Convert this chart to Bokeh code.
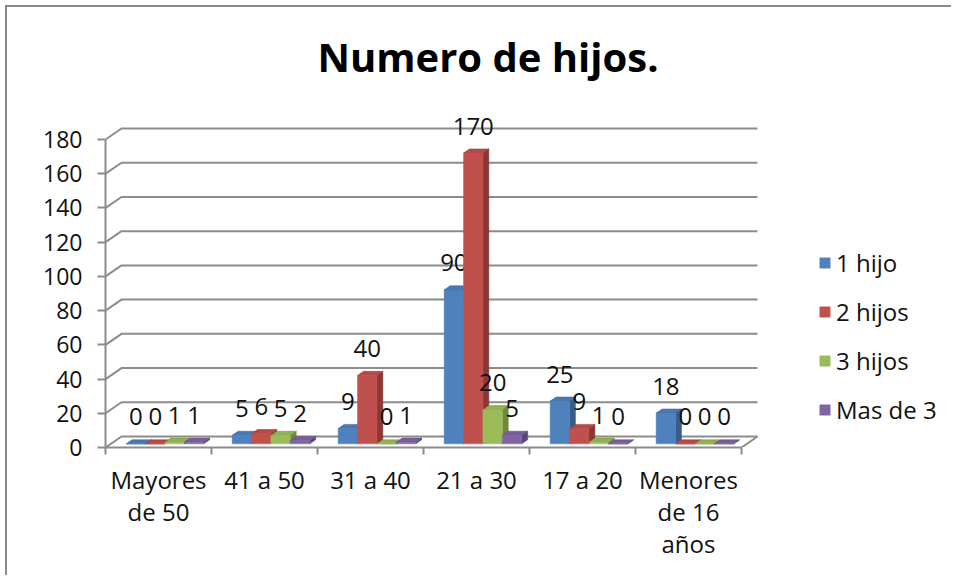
from bokeh.plotting import figure
from bokeh.models import Range1d, FixedTicker, Label, Legend, LegendItem, ColumnDataSource
from bokeh.embed import file_html
from bokeh.resources import INLINE
from bokeh.core.properties import value

# ---------------- data ----------------
categories = ["Mayores de 50", "41 a 50", "31 a 40", "21 a 30", "17 a 20", "Menores de 16 años"]
category_labels = ["Mayores\nde 50", "41 a 50", "31 a 40", "21 a 30", "17 a 20", "Menores\nde 16\naños"]
series_names = ["1 hijo", "2 hijos", "3 hijos", "Mas de 3"]
uno_hijo = [0, 5, 9, 90, 25, 18]
dos_hijos = [0, 6, 40, 170, 9, 0]
tres_hijos = [1, 5, 0, 20, 1, 0]
mas_de_3 = [1, 2, 1, 5, 0, 0]
y_ticks = [0, 20, 40, 60, 80, 100, 120, 140, 160, 180]
title_text = "Numero de hijos."

series_values = [uno_hijo, dos_hijos, tres_hijos, mas_de_3]
front_colors = ["#4F81BD", "#C0504D", "#9BBB59", "#8064A2"]
top_colors = ["#4A79B2", "#B54B48", "#92B054", "#795E99"]
side_colors = ["#385D8A", "#8A3735", "#6F8A3E", "#5B4777"]

# ---------------- layout constants ----------------
W, H = 946, 570
LEFT = 98
FRAME_H = 440
CAT_PX = 106.0
PX_PER_UNIT = 1.711
DX_PX, DY_PX = 16.0, 11.0
FONT = "Open Sans"
GRID_COLOR = "#8c8c8c"
TEXT_COLOR = "#111111"

n_cat = len(categories)
x_end = (W - LEFT) / CAT_PX
y_end = FRAME_H / PX_PER_UNIT
DXu = DX_PX / CAT_PX
DYu = DY_PX / PX_PER_UNIT
ZF, ZB = 0.33, 0.70      # bar front / back depth (fraction of floor depth)
G0 = 0.145               # gap before first bar in a category
BW = 0.183               # bar width (category units)

p = figure(width=W, height=H, output_backend="svg", toolbar_location=None,
           x_range=Range1d(0, x_end), y_range=Range1d(0, y_end),
           min_border_left=LEFT, min_border_right=0, min_border_top=0,
           min_border_bottom=H - FRAME_H,
           background_fill_color="white", border_fill_color="white",
           styles={"margin-left": "5px", "margin-top": "5px",
                   "border-left": "2px solid #8a8a8a", "border-top": "2px solid #8a8a8a"})
p.outline_line_color = None
p.xgrid.visible = False
p.ygrid.visible = False

# ---------------- 3D gridlines (side + back wall) ----------------
grid_xs = [[0, DXu, n_cat + DXu] for t in y_ticks]
grid_ys = [[t, t + DYu, t + DYu] for t in y_ticks]
p.multi_line(grid_xs, grid_ys, line_color=GRID_COLOR, line_width=2)
# floor right edge
p.line([n_cat, n_cat + DXu], [0, DYu], line_color=GRID_COLOR, line_width=2)

# ---------------- 3D bars ----------------
legend_items = []
for j, (name, vals) in enumerate(zip(series_names, series_values)):
    lefts = [i + G0 + j * BW + ZF * DXu for i in range(n_cat)]
    rights = [l + BW for l in lefts]
    base_f = ZF * DYu
    base_b = ZB * DYu
    d = (ZB - ZF) * DXu
    side_xs = [[r, r + d, r + d, r] for r in rights]
    side_ys = [[base_f, base_b, v + base_b, v + base_f] for v in vals]
    top_xs = [[l, r, r + d, l + d] for l, r in zip(lefts, rights)]
    top_ys = [[v + base_f, v + base_f, v + base_b, v + base_b] for v in vals]
    p.patches(side_xs, side_ys, fill_color=side_colors[j], line_color=side_colors[j], line_width=0.5)
    p.patches(top_xs, top_ys, fill_color=top_colors[j], line_color=side_colors[j], line_width=0.5)
    src = ColumnDataSource(dict(left=lefts, right=rights,
                                bottom=[base_f] * n_cat, top=[v + base_f for v in vals],
                                xc=[l + BW / 2 for l in lefts], lbl=[str(v) for v in vals]))
    r = p.quad(left="left", right="right", bottom="bottom", top="top", source=src,
               fill_color=front_colors[j], line_color=front_colors[j], line_width=0.5)
    legend_items.append(LegendItem(label=name, renderers=[r]))
    p.text(x="xc", y="top", text="lbl", source=src, text_align="center",
           text_baseline="middle", y_offset=-27, text_font=value(FONT),
           text_font_size="24px", text_color=TEXT_COLOR)

# ---------------- axes ----------------
xa = p.xaxis[0]
xa.ticker = FixedTicker(ticks=[i + 0.5 for i in range(n_cat)], minor_ticks=list(range(n_cat + 1)))
xa.major_label_overrides = {i + 0.5: lab for i, lab in enumerate(category_labels)}
xa.bounds = (0, n_cat)
xa.major_tick_out = 0
xa.major_tick_in = 0
xa.minor_tick_out = 7
xa.minor_tick_in = 0
xa.minor_tick_line_color = GRID_COLOR
xa.minor_tick_line_width = 2
xa.axis_line_color = GRID_COLOR
xa.axis_line_width = 2
xa.major_label_standoff = 8
xa.major_label_text_font = FONT
xa.major_label_text_font_size = "24px"
xa.major_label_text_color = TEXT_COLOR
xa.major_label_text_line_height = 0.98

ya = p.yaxis[0]
ya.ticker = FixedTicker(ticks=y_ticks, minor_ticks=[])
ya.bounds = (0, y_ticks[-1])
ya.major_tick_out = 8
ya.major_tick_in = 0
ya.minor_tick_out = 0
ya.minor_tick_in = 0
ya.major_tick_line_color = GRID_COLOR
ya.major_tick_line_width = 2
ya.axis_line_color = GRID_COLOR
ya.axis_line_width = 2
ya.major_label_standoff = 15
ya.major_label_text_font = FONT
ya.major_label_text_font_size = "23px"
ya.major_label_text_color = TEXT_COLOR

# ---------------- title ----------------
TITLE_X = (487.5 - 105) / CAT_PX
TITLE_Y = (447 - 56) / PX_PER_UNIT
p.add_layout(Label(x=TITLE_X, y=TITLE_Y, text=title_text, text_align="center",
                   text_baseline="middle", text_font=FONT, text_font_size="40px",
                   text_font_style="bold", text_color="#000000"))

# ---------------- legend ----------------
legend = Legend(items=legend_items, location=(713, 21),
                glyph_width=13, glyph_height=13, label_height=25, spacing=16,
                label_standoff=5, padding=0, margin=0,
                label_text_font=FONT, label_text_font_size="24px",
                label_text_color=TEXT_COLOR,
                border_line_color=None, background_fill_alpha=0)
p.add_layout(legend)

open("out.html", "w").write(file_html(p, INLINE))
